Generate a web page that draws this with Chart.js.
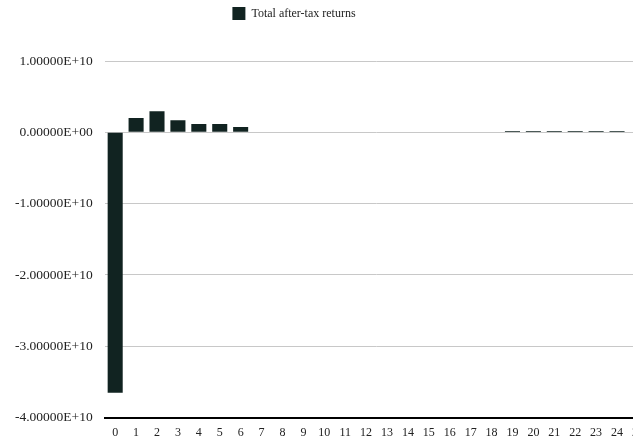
<!DOCTYPE html>
<html>
<head>
<meta charset="utf-8">
<script src="https://cdn.jsdelivr.net/npm/chart.js@4"></script>
<style>
  body { margin: 0; overflow: hidden; background: #fff; }
  #wrap { width: 652px; height: 448px; }
</style>
</head>
<body>
<div id="wrap"><canvas id="bars"></canvas></div>
<script>
const categories = ['0', '1', '2', '3', '4', '5', '6', '7', '8', '9', '10', '11', '12',
  '13', '14', '15', '16', '17', '18', '19', '20', '21', '22', '23', '24', '25'];
const returns = [-3.65e10, 2.0e9, 2.96e9, 1.7e9, 1.17e9, 1.17e9, 0.75e9, 0, 0, 0, 0, 0, 0,
  0, 0, 0, 0, 0, 0, 2e8, 2e8, 2e8, 2e8, 2e8, 2e8, 0];
const seriesName = 'Total after-tax returns';
const yMin = -4e10, yMax = 1e10, yStep = 1e10;

function sci(v) {
  const parts = v.toExponential(5).split('e');
  const e = +parts[1];
  return parts[0] + 'E' + (e < 0 ? '-' : '+') + String(Math.abs(e)).padStart(2, '0');
}

// legend sits left of centre and has a gap below it in the original
const legendNudge = {
  id: 'legendNudge',
  beforeInit(chart) {
    const fit = chart.legend.fit;
    chart.legend.fit = function () {
      fit.call(this);
      this.height += 31;
    };
  },
  afterLayout(chart) {
    chart.legend.left -= 32;
    chart.legend.right -= 32;
  }
};

Chart.defaults.font.family = '"Liberation Serif", serif';
Chart.defaults.font.size = 13.5;
Chart.defaults.color = '#222';

const ctx = document.getElementById('bars').getContext('2d');
new Chart(ctx, {
  type: 'bar',
  data: {
    labels: categories,
    datasets: [{
      label: seriesName,
      data: returns,
      backgroundColor: '#112321',
      borderWidth: 0
    }]
  },
  options: {
    responsive: true,
    maintainAspectRatio: false,
    animation: false,
    layout: { padding: { left: 3, right: 3, top: 0, bottom: 0 } },
    plugins: {
      legend: {
        labels: { boxWidth: 13, boxHeight: 13, padding: 7, font: { size: 12 } }
      },
      tooltip: { enabled: false }
    },
    scales: {
      x: {
        grid: { display: false, drawTicks: false },
        border: { color: '#000', width: 2 },
        ticks: { padding: 8, font: { size: 12 }, autoSkip: false, maxRotation: 0 }
      },
      y: {
        min: yMin,
        max: yMax,
        ticks: { stepSize: yStep, padding: 12, callback: sci },
        grid: { color: '#c8c8c8', drawTicks: false },
        border: { display: false }
      }
    }
  },
  plugins: [legendNudge]
});
</script>
</body>
</html>
